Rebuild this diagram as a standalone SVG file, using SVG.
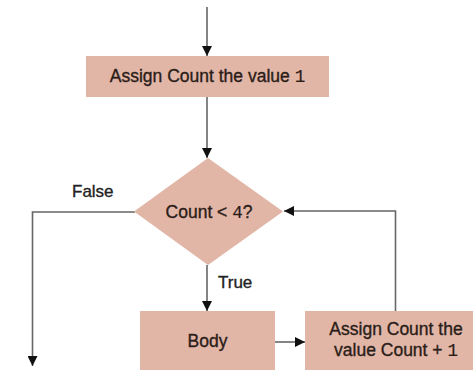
<svg xmlns="http://www.w3.org/2000/svg" width="473" height="371" viewBox="0 0 473 371">
  <style>
    .box { fill: #e2b6a7; stroke: none; }
    .lbl { font-family: "Liberation Sans", Arial, sans-serif; font-size: 17.5px; fill: #2b1d18; stroke: #2b1d18; stroke-width: 0.35; text-anchor: middle; }
    .side { font-family: "Liberation Sans", Arial, sans-serif; font-size: 17px; fill: #222; stroke: #222; stroke-width: 0.35; }
    .mono { font-family: "Liberation Mono", "Courier New", monospace; stroke-width: 0.2; }
    .wire { fill: none; stroke: #666; stroke-width: 1.6; }
  </style>
  <defs>
    <marker id="arrow" viewBox="0 0 10 10" refX="10" refY="5" markerWidth="10" markerHeight="10" markerUnits="userSpaceOnUse" orient="auto">
      <path d="M0,0 L10,5 L0,10 Z" fill="#111"/>
    </marker>
  </defs>
  <rect width="473" height="371" fill="#ffffff"/>

  <g id="connectors">
    <!-- entry -->
    <line class="wire" x1="207" y1="7" x2="207" y2="56" marker-end="url(#arrow)"/>
    <!-- init to test -->
    <line class="wire" x1="207" y1="97" x2="207" y2="158" marker-end="url(#arrow)"/>
    <!-- false exit -->
    <polyline class="wire" points="135,212 32.5,212 32.5,366" marker-end="url(#arrow)"/>
    <!-- true branch -->
    <line class="wire" x1="207" y1="265" x2="207" y2="311" marker-end="url(#arrow)"/>
    <!-- body to increment -->
    <line class="wire" x1="275" y1="342" x2="305" y2="342" marker-end="url(#arrow)"/>
    <!-- loop back -->
    <polyline class="wire" points="395.5,311 395.5,211 284,211" marker-end="url(#arrow)"/>
  </g>

  <g id="init">
    <rect class="box" x="86" y="56" width="243" height="41"/>
    <text class="lbl" x="207.5" y="82">Assign Count the value <tspan class="mono">1</tspan></text>
  </g>

  <g id="test">
    <polygon class="box" points="208,158 283,211.5 208,265 134,211.5"/>
    <text class="lbl" x="209" y="218">Count &lt; <tspan class="mono">4</tspan>?</text>
  </g>

  <g id="body">
    <rect class="box" x="140" y="311" width="135" height="59"/>
    <text class="lbl" x="207.5" y="347">Body</text>
  </g>

  <g id="increment">
    <rect class="box" x="305" y="311" width="168" height="59"/>
    <text class="lbl" x="396" y="335">Assign Count the</text>
    <text class="lbl" x="396" y="356">value Count + <tspan class="mono">1</tspan></text>
  </g>

  <g id="labels">
    <text class="side" x="72" y="197">False</text>
    <text class="side" x="218" y="288">True</text>
  </g>
</svg>
